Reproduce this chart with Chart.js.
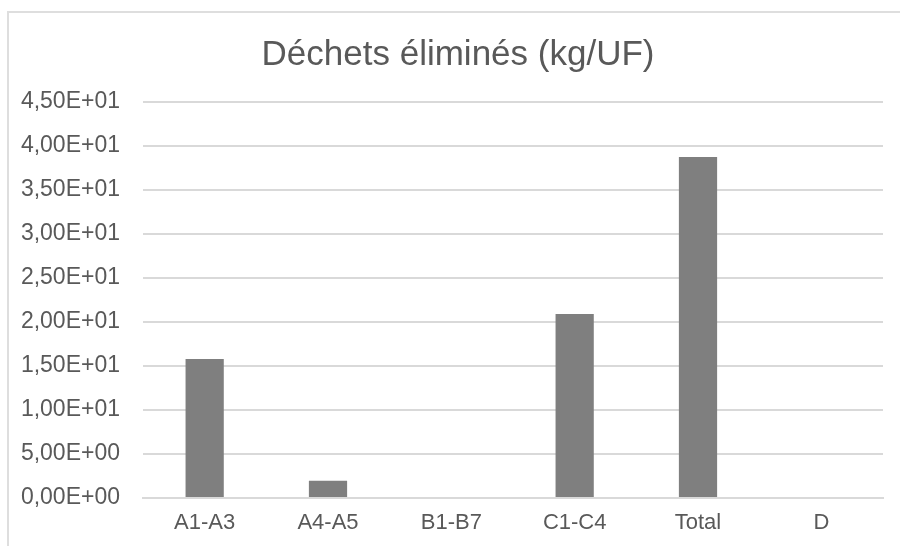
<!DOCTYPE html>
<html lang="fr">
<head>
  <meta charset="UTF-8" />
  <title>Déchets éliminés (kg/UF)</title>
  <script src="https://cdn.jsdelivr.net/npm/chart.js"></script>
  <style>
    body {
      margin: 0;
      background: #fff;
      overflow: hidden;
    }
    #frame {
      position: absolute;
      left: 7px;
      top: 11px;
      width: 1000px;
      height: 1000px;
      border: 2px solid #dedede;
    }
    #wrap {
      position: absolute;
      left: 0;
      top: 0;
      width: 900px;
      height: 546px;
    }
  </style>
</head>
<body>
  <div id="frame"></div>
  <div id="wrap"><canvas id="chart" width="900" height="546"></canvas></div>

  <script>
    const categories = ['A1-A3', 'A4-A5', 'B1-B7', 'C1-C4', 'Total', 'D'];
    const values = [15.8, 1.97, 0, 20.9, 38.75, 0];
    const yTickLabels = ['0,00E+00', '5,00E+00', '1,00E+01', '1,50E+01', '2,00E+01',
                         '2,50E+01', '3,00E+01', '3,50E+01', '4,00E+01', '4,50E+01'];

    const textColor = '#595959';
    const gridColor = '#d9d9d9';
    const font = "'Liberation Sans', Arial, sans-serif";

    // the title in the original sits a bit right of the canvas centre
    const nudgeTitle = {
      id: 'nudgeTitle',
      afterLayout(chart) {
        if (chart.titleBlock) chart.titleBlock.left = 33;
      }
    };

    new Chart(document.getElementById('chart'), {
      type: 'bar',
      data: {
        labels: categories,
        datasets: [{
          data: values,
          backgroundColor: '#7f7f7f',
          categoryPercentage: 1,
          barPercentage: 0.31
        }]
      },
      options: {
        responsive: false,
        animation: false,
        layout: { padding: { left: 0, right: 17, top: 0, bottom: 11 } },
        plugins: {
          legend: { display: false },
          tooltip: { enabled: false },
          title: {
            display: true,
            text: 'Déchets éliminés (kg/UF)',
            color: textColor,
            font: { family: font, size: 35, weight: 'normal' },
            padding: { top: 34, bottom: 26 }
          }
        },
        scales: {
          x: {
            afterFit: s => { s.height = 37; },
            grid: { display: false, drawTicks: false },
            border: { color: gridColor, width: 2 },
            ticks: { color: textColor, font: { family: font, size: 22 }, padding: 12 }
          },
          y: {
            min: 0,
            max: 45,
            afterFit: s => { s.width = 143; },
            grid: { color: gridColor, lineWidth: 2, drawTicks: false },
            border: { display: false },
            ticks: {
              stepSize: 5,
              color: textColor,
              font: { family: font, size: 23 },
              padding: 23,
              callback: (v, i) => yTickLabels[i]
            }
          }
        }
      },
      plugins: [nudgeTitle]
    });
  </script>
</body>
</html>
